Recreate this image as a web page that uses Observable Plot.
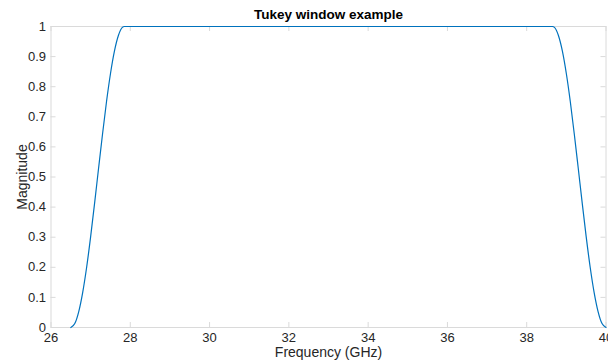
<!DOCTYPE html>
<html>
<head>
<meta charset="utf-8">
<script src="https://cdn.jsdelivr.net/npm/d3@7"></script>
<script src="https://cdn.jsdelivr.net/npm/@observablehq/plot@0.6"></script>
<style>
  html, body { margin: 0; padding: 0; background: #fff; }
  svg { display: block; }
</style>
</head>
<body>
<div id="chart"></div>
<script>
// Values
const frequency = [
  26.5, 26.6, 26.7, 26.8, 26.9, 27.0, 27.1, 27.2, 27.3, 27.4, 27.5, 27.6, 27.7, 27.8, 27.85,
  38.65, 38.7, 38.8, 38.9, 39.0, 39.1, 39.2, 39.3, 39.4, 39.5, 39.6, 39.7, 39.8, 39.9, 40.0
];
const magnitude = [
  0, 0.013, 0.053, 0.117, 0.201, 0.302, 0.413, 0.529, 0.643, 0.75, 0.843, 0.918, 0.970, 0.997, 1,
  1, 0.997, 0.970, 0.918, 0.843, 0.75, 0.643, 0.529, 0.413, 0.302, 0.201, 0.117, 0.053, 0.013, 0
];
const xTicks = [26, 28, 30, 32, 34, 36, 38, 40];
const yTicks = [0, 0.1, 0.2, 0.3, 0.4, 0.5, 0.6, 0.7, 0.8, 0.9, 1];
const title = "Tukey window example";
const xLabel = "Frequency (GHz)";
const yLabel = "Magnitude";

const data = frequency.map((f, i) => ({f, m: magnitude[i]}));

const W = 608, H = 362;
const mL = 50.5, mR = 2.5, mT = 26, mB = 35;
const iW = W - mL - mR, iH = H - mT - mB;
const axisColor = "#dadada";
const textColor = "#262626";
const tickLen = 5;

const chart = Plot.plot({
  width: W,
  height: H,
  marginLeft: mL,
  marginRight: mR,
  marginTop: mT,
  marginBottom: mB,
  style: {fontFamily: "'Liberation Sans', Arial, sans-serif", fontSize: "13px", color: textColor, background: "#fff"},
  x: {domain: [26, 40]},
  y: {domain: [0, 1]},
  marks: [
    Plot.frame({stroke: axisColor}),
    // inward ticks: bottom, top, left, right
    Plot.tickX(xTicks, {x: d => d, stroke: axisColor, insetTop: iH - tickLen}),
    Plot.tickX(xTicks, {x: d => d, stroke: axisColor, insetBottom: iH - tickLen}),
    Plot.tickY(yTicks, {y: d => d, stroke: axisColor, insetRight: iW - tickLen}),
    Plot.tickY(yTicks, {y: d => d, stroke: axisColor, insetLeft: iW - tickLen}),
    Plot.axisX({ticks: xTicks, tickSize: 0, tickPadding: 5, tickFormat: d => String(d), label: null, fill: textColor, fontSize: 13}),
    Plot.axisY({ticks: yTicks, tickSize: 0, tickPadding: 5, tickFormat: d => String(d), label: null, fill: textColor, fontSize: 13}),
    Plot.line(data, {x: "f", y: "m", stroke: "#0072BD", strokeWidth: 1.2, curve: "monotone-x"}),
    Plot.text([title], {frameAnchor: "top", dy: -12, lineAnchor: "middle", fontWeight: "bold", fontSize: 13.5, fill: "#000"}),
    Plot.text([xLabel], {frameAnchor: "bottom", dy: 25.5, lineAnchor: "middle", fontSize: 14, fill: textColor}),
    Plot.text([yLabel], {frameAnchor: "left", dx: -28.5, rotate: -90, textAnchor: "middle", lineAnchor: "middle", fontSize: 14, fill: textColor})
  ]
});
document.getElementById("chart").appendChild(chart);
</script>
</body>
</html>
